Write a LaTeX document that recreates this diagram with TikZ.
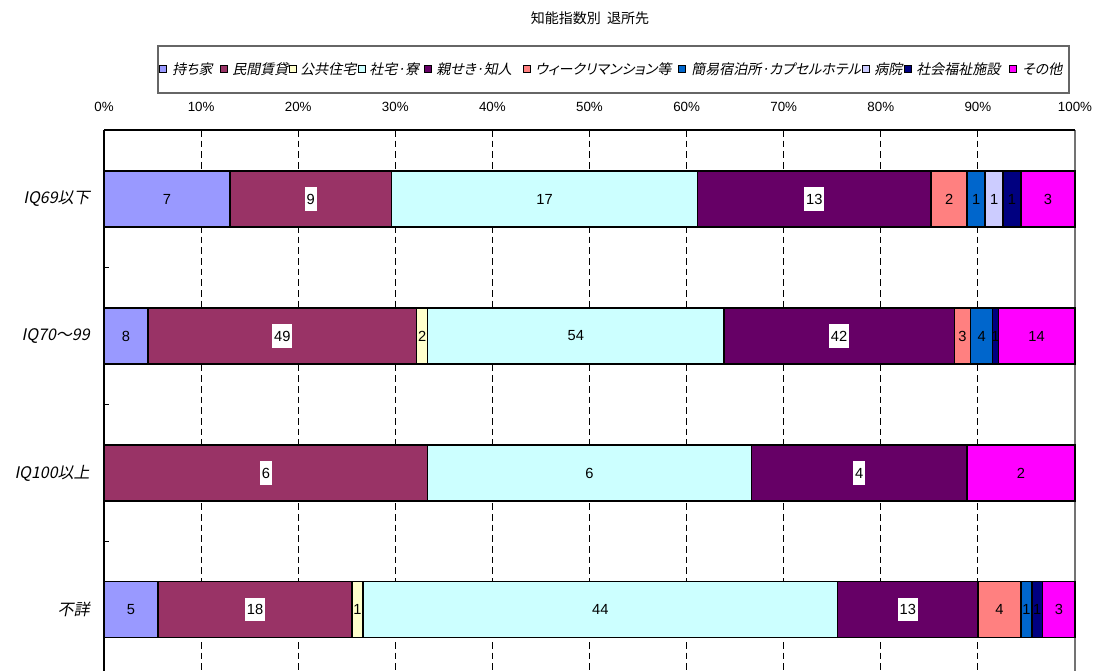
\documentclass[tikz,border=0pt]{standalone}
\usepackage{fontspec}
\setmainfont{Liberation Sans}
\newfontfamily\jp{Noto Sans CJK JP}
\newfontfamily\jpit[FakeSlant=0.2]{Noto Sans CJK JP}
\newfontfamily\jpitp[FakeSlant=0.2,RawFeature=+palt]{Noto Sans CJK JP}
\definecolor{cMochi}{HTML}{9999FF}
\definecolor{cMin}{HTML}{993366}
\definecolor{cKou}{HTML}{FFFFCC}
\definecolor{cSha}{HTML}{CCFFFF}
\definecolor{cShin}{HTML}{660066}
\definecolor{cWeek}{HTML}{FF8080}
\definecolor{cKan}{HTML}{0066CC}
\definecolor{cByo}{HTML}{CCCCFF}
\definecolor{cFuku}{HTML}{000080}
\definecolor{cSono}{HTML}{FF00FF}
\tikzset{
  segbox/.style={draw=black, line width=1pt},
  seglab/.style={font=\fontsize{11}{12}\selectfont, inner sep=1.5pt},
  darklab/.style={seglab, fill=white, inner ysep=5pt},
  catlab/.style={anchor=east, font=\jpit\fontsize{12}{14}\selectfont, inner sep=0pt},
  ticklab/.style={font=\fontsize{10}{12}\selectfont, inner sep=0pt},
  gridline/.style={draw=black, line width=0.75pt, dash pattern=on 5pt off 3pt},
  legmark/.style={draw=black, line width=0.6pt, minimum size=5.5pt, inner sep=0pt},
  legtext/.style={anchor=west, font=\jpitp\fontsize{10.5}{12}\selectfont, inner sep=0pt},
}
% #1 y-centre, #2 total, #3 start, #4 end, #5 colour, #6 label, #7 label style, #8 name
\newcommand\seg[8]{%
  \draw[segbox, fill=#5] ({104+971*(#3/#2)},{#1-28}) rectangle ({104+971*(#4/#2)},{#1+28});
  \node[#7] (#8) at ({104+485.5*(#3/#2)+485.5*(#4/#2)},#1) {#6};
}
\begin{document}
\begin{tikzpicture}[x=0.75pt,y=-0.75pt]
\useasboundingbox (0,0) rectangle (1095,671);
% title
\node[font=\jp\fontsize{10.5}{12}\selectfont] (title) at (590,18) {知能指数別\ \ 退所先};
% legend
\draw[draw=black!60, line width=0.8pt] (158,46) rectangle (1069,93);
\node[legmark, fill=cMochi] (m1) at (163,69) {};
\node[legtext] (t1) at (172,69) {持ち家};
\node[legmark, fill=cMin] (m2) at (224,69) {};
\node[legtext] (t2) at (232,69) {民間賃貸};
\node[legmark, fill=cKou] (m3) at (293,69) {};
\node[legtext] (t3) at (300,69) {公共住宅};
\node[legmark, fill=cSha] (m4) at (362,69) {};
\node[legtext] (t4) at (369,69) {社宅·寮};
\node[legmark, fill=cShin] (m5) at (428,69) {};
\node[legtext] (t5) at (436,69) {親せき·知人};
\node[legmark, fill=cWeek] (m6) at (527,69) {};
\node[legtext] (t6) at (535,69) {ウィークリマンション等};
\node[legmark, fill=cKan] (m7) at (682,69) {};
\node[legtext] (t7) at (691,69) {簡易宿泊所·カプセルホテル};
\node[legmark, fill=cByo] (m8) at (866,69) {};
\node[legtext] (t8) at (874,69) {病院};
\node[legmark, fill=cFuku] (m9) at (908,69) {};
\node[legtext] (t9) at (916,69) {社会福祉施設};
\node[legmark, fill=cSono] (m10) at (1013,69) {};
\node[legtext] (t10) at (1022,69) {その他};
% axis labels
\foreach \k in {0,...,10}{
  \node[ticklab] (ax\k) at ({104+97.1*\k},107) {\pgfmathparse{int(\k*10)}\pgfmathresult\%};
}
% gridlines
\foreach \k in {1,...,9}{
  \draw[gridline] ({104+97.1*\k},130) -- ({104+97.1*\k},671);
}
% frame
\draw[black!55, line width=1pt] (1075,130) -- (1075,671);
\draw[black, line width=1pt] (104,130) -- (1075,130);
\draw[black, line width=1pt] (104,130) -- (104,671);
\foreach \yy in {267.5,404.5,541.5}{
  \draw[black, line width=0.8pt] (104,\yy) -- (109,\yy);
}
% bar 1: IQ69以下 (total 54)
\seg{199}{54}{0}{7}{cMochi}{7}{seglab}{a1}
\seg{199}{54}{7}{16}{cMin}{9}{darklab}{a2}
\seg{199}{54}{16}{33}{cSha}{17}{seglab}{a4}
\seg{199}{54}{33}{46}{cShin}{13}{darklab}{a5}
\seg{199}{54}{46}{48}{cWeek}{2}{seglab}{a6}
\seg{199}{54}{48}{49}{cKan}{1}{seglab}{a7}
\seg{199}{54}{49}{50}{cByo}{1}{seglab}{a8}
\seg{199}{54}{50}{51}{cFuku}{1}{seglab}{a9}
\seg{199}{54}{51}{54}{cSono}{3}{seglab}{a10}
% bar 2: IQ70~99 (total 177)
\seg{336}{177}{0}{8}{cMochi}{8}{seglab}{b1}
\seg{336}{177}{8}{57}{cMin}{49}{darklab}{b2}
\seg{336}{177}{57}{59}{cKou}{2}{seglab}{b3}
\seg{336}{177}{59}{113}{cSha}{54}{seglab}{b4}
\seg{336}{177}{113}{155}{cShin}{42}{darklab}{b5}
\seg{336}{177}{155}{158}{cWeek}{3}{seglab}{b6}
\seg{336}{177}{158}{162}{cKan}{4}{seglab}{b7}
\seg{336}{177}{162}{163}{cFuku}{1}{seglab}{b9}
\seg{336}{177}{163}{177}{cSono}{14}{seglab}{b10}
% bar 3: IQ100以上 (total 18)
\seg{473}{18}{0}{6}{cMin}{6}{darklab}{c2}
\seg{473}{18}{6}{12}{cSha}{6}{seglab}{c4}
\seg{473}{18}{12}{16}{cShin}{4}{darklab}{c5}
\seg{473}{18}{16}{18}{cSono}{2}{seglab}{c10}
% bar 4: 不詳 (total 90)
\seg{609.5}{90}{0}{5}{cMochi}{5}{seglab}{d1}
\seg{609.5}{90}{5}{23}{cMin}{18}{darklab}{d2}
\seg{609.5}{90}{23}{24}{cKou}{1}{seglab}{d3}
\seg{609.5}{90}{24}{68}{cSha}{44}{seglab}{d4}
\seg{609.5}{90}{68}{81}{cShin}{13}{darklab}{d5}
\seg{609.5}{90}{81}{85}{cWeek}{4}{seglab}{d6}
\seg{609.5}{90}{85}{86}{cKan}{1}{seglab}{d7}
\seg{609.5}{90}{86}{87}{cFuku}{1}{seglab}{d9}
\seg{609.5}{90}{87}{90}{cSono}{3}{seglab}{d10}
% category labels
\node[catlab] (cat1) at (90,199) {IQ69以下};
\node[catlab] (cat2) at (90,336) {IQ70～99};
\node[catlab] (cat3) at (90,473) {IQ100以上};
\node[catlab] (cat4) at (90,609.5) {不詳};
\end{tikzpicture}
\end{document}
